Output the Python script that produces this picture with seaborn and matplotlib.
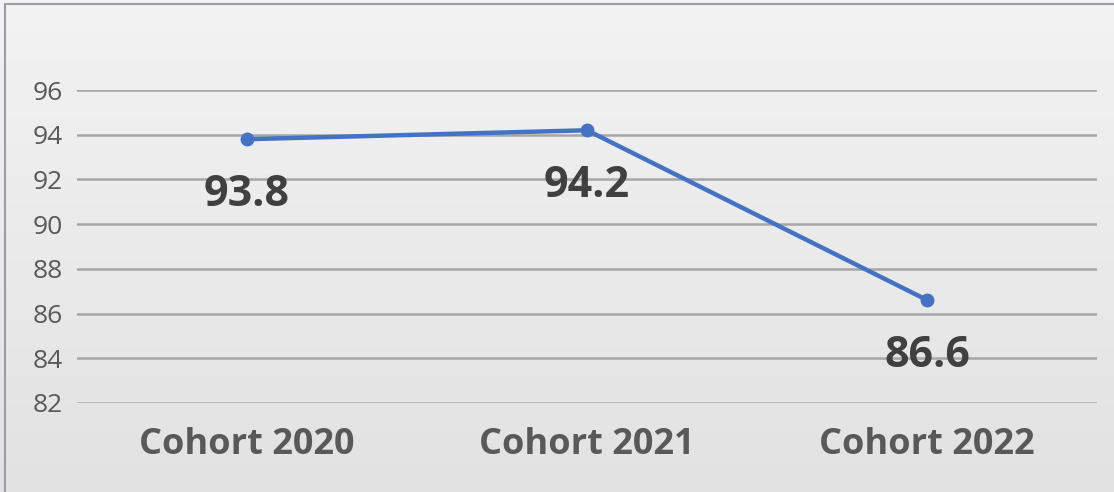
import numpy as np
import pandas as pd
import matplotlib.pyplot as plt
import seaborn as sns
from matplotlib.lines import Line2D

# data
cohorts = ["Cohort 2020", "Cohort 2021", "Cohort 2022"]
scores = [93.8, 94.2, 86.6]
y_ticks = [82, 84, 86, 88, 90, 92, 94, 96]

df = pd.DataFrame({"cohort": cohorts, "score": scores})

sns.set_style("white")
plt.rcParams["font.family"] = ["Open Sans", "DejaVu Sans"]

fig = plt.figure(figsize=(11.14, 4.92), dpi=100)

# light gray gradient background
bg = fig.add_axes([0, 0, 1, 1], zorder=-10)
grad = np.linspace(0, 1, 256).reshape(-1, 1)
bg.imshow(grad, aspect="auto", cmap=plt.matplotlib.colors.LinearSegmentedColormap.from_list(
    "bg", ["#f3f3f3", "#e2e2e2"]), extent=[0, 1, 0, 1], origin="upper")
bg.set_axis_off()

# frame lines (top and left)
fig.add_artist(Line2D([0.0045, 1], [0.992, 0.992], transform=fig.transFigure, color="#9c9ca8", lw=1.5))
fig.add_artist(Line2D([0.0045, 0.0045], [0, 0.992], transform=fig.transFigure, color="#9c9ca8", lw=1.5))

ax = fig.add_axes([0.069, 0.181, 0.916, 0.636])
ax.patch.set_alpha(0)

sns.lineplot(data=df, x="cohort", y="score", ax=ax, color="#4472C4", lw=3.2,
             marker="o", markersize=10, markeredgewidth=0, zorder=3, sort=False)

for i, v in enumerate(scores):
    ax.annotate(f"{v}", (i, v), xytext=(0, -55), textcoords="offset pixels",
                ha="center", va="center", fontsize=31, fontweight="bold", color="#404040", zorder=4)

ax.set_ylim(82, 96)
ax.set_xlim(-0.5, 2.5)
ax.set_yticks(y_ticks)
ax.set_yticklabels([str(t) for t in y_ticks])
ax.yaxis.grid(True, color="#a6a6a6", lw=1.8)
ax.set_axisbelow(True)
ax.tick_params(axis="y", length=0, pad=10, labelsize=19, labelcolor="#595959")
ax.tick_params(axis="x", length=0, pad=17, labelsize=26, labelcolor="#595959")
for lbl in ax.get_xticklabels():
    lbl.set_fontweight("bold")
ax.set_xlabel("")
ax.set_ylabel("")
sns.despine(ax=ax, left=True, bottom=True)

fig.savefig("out.png", dpi=100)
